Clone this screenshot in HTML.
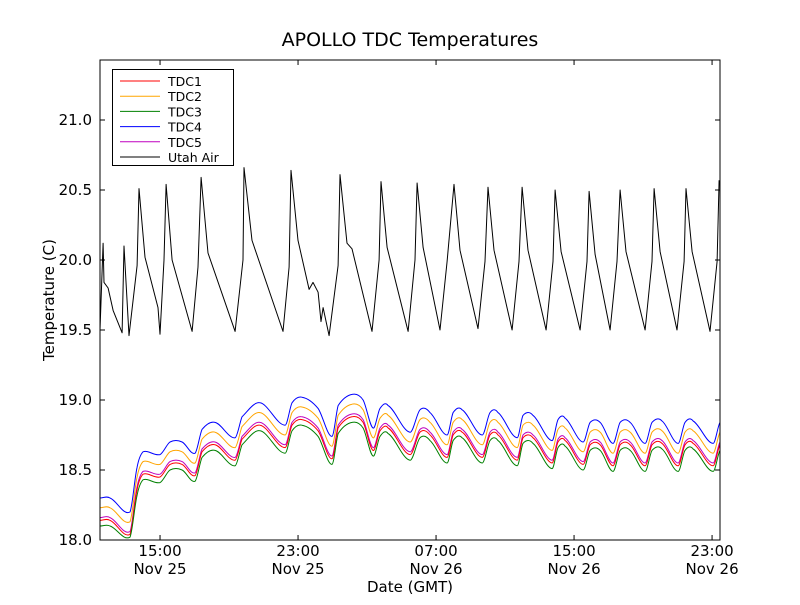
<!DOCTYPE html>
<html><head><meta charset="utf-8"><style>
body{margin:0;background:#fff;}
svg text{font-family:"DejaVu Sans","Liberation Sans",sans-serif;fill:#000;}
</style></head><body>
<svg id="chart" width="800" height="600" viewBox="0 0 800 600" xmlns="http://www.w3.org/2000/svg">
<rect width="800" height="600" fill="#fff"/>
<text x="410" y="46" font-size="19" text-anchor="middle">APOLLO TDC Temperatures</text>
<text x="0" y="0" font-size="15" text-anchor="middle" transform="translate(54,300) rotate(-90)">Temperature (C)</text>
<text x="410" y="592" font-size="15" text-anchor="middle">Date (GMT)</text>
<g id="plot"></g>
<g id="axes"></g>
<g id="legend"></g>
</svg>
<script>
const airTimes=[11.52,11.70,11.75,11.99,12.28,12.80,12.91,13.20,13.67,13.78,14.13,14.88,15.00,15.23,15.35,15.70,16.86,17.20,17.38,17.78,19.35,19.81,19.87,20.33,22.13,22.48,22.59,23.00,23.64,23.87,24.16,24.33,24.45,24.80,25.32,25.43,25.84,26.13,27.29,27.70,27.81,28.16,29.38,29.78,29.90,30.25,31.23,31.64,32.04,32.39,33.43,33.84,34.01,34.36,35.41,35.81,35.99,36.33,37.38,37.78,37.90,38.25,39.35,39.75,39.87,40.22,41.09,41.49,41.67,42.01,43.12,43.52,43.64,43.99,44.97,45.38,45.49,45.84,46.88,47.29,47.41];
const airValues=[19.50,20.12,19.84,19.80,19.64,19.48,20.10,19.46,19.96,20.51,20.02,19.66,19.47,20.00,20.54,20.00,19.49,19.95,20.59,20.05,19.49,20.00,20.66,20.14,19.49,19.95,20.64,20.14,19.79,19.84,19.77,19.56,19.66,19.46,19.96,20.61,20.12,20.08,19.49,20.00,20.56,20.09,19.49,20.00,20.55,20.09,19.50,19.99,20.54,20.07,19.51,19.99,20.52,20.07,19.50,19.99,20.52,20.07,19.50,19.99,20.50,20.06,19.50,19.99,20.49,20.04,19.50,19.99,20.50,20.06,19.50,19.99,20.51,20.06,19.50,19.99,20.51,20.06,19.49,19.99,20.57];
const tdcTimes=[11.52,12.10,13.26,13.67,14.01,15.00,15.58,16.28,17.03,17.43,18.19,19.35,19.75,20.80,22.25,22.65,23.23,24.16,24.97,25.32,26.13,26.77,27.35,27.75,28.22,29.49,30.07,30.65,31.64,31.99,32.51,33.67,34.13,34.59,35.70,36.04,36.62,37.72,38.07,38.48,39.52,39.93,40.51,41.26,41.67,42.25,43.12,43.52,44.10,45.03,45.43,45.90,47.06,47.46];
const tdc4=[18.30,18.30,18.20,18.52,18.63,18.61,18.70,18.70,18.62,18.79,18.84,18.73,18.88,18.98,18.82,18.98,19.02,18.94,18.74,18.96,19.04,19.00,18.80,18.94,18.96,18.77,18.93,18.91,18.75,18.91,18.93,18.75,18.91,18.91,18.73,18.89,18.89,18.71,18.86,18.87,18.70,18.84,18.84,18.69,18.84,18.84,18.69,18.84,18.85,18.69,18.84,18.85,18.69,18.84];
const tdc2=[18.23,18.23,18.13,18.45,18.56,18.54,18.63,18.63,18.55,18.72,18.77,18.66,18.81,18.91,18.75,18.91,18.95,18.87,18.67,18.89,18.97,18.93,18.73,18.87,18.89,18.70,18.86,18.84,18.68,18.84,18.86,18.68,18.84,18.84,18.66,18.82,18.82,18.64,18.79,18.80,18.63,18.77,18.77,18.62,18.77,18.77,18.62,18.77,18.78,18.62,18.77,18.78,18.62,18.77];
const tdc5=[18.16,18.16,18.06,18.38,18.49,18.47,18.56,18.56,18.48,18.65,18.70,18.59,18.74,18.84,18.68,18.84,18.88,18.80,18.60,18.82,18.90,18.86,18.66,18.80,18.82,18.63,18.79,18.77,18.61,18.77,18.79,18.61,18.77,18.77,18.59,18.75,18.75,18.57,18.72,18.73,18.56,18.70,18.70,18.55,18.70,18.70,18.55,18.70,18.71,18.55,18.70,18.71,18.55,18.70];
const tdc1=[18.14,18.14,18.04,18.36,18.47,18.45,18.54,18.54,18.46,18.63,18.68,18.57,18.72,18.82,18.66,18.82,18.86,18.78,18.58,18.80,18.88,18.84,18.64,18.78,18.80,18.61,18.77,18.75,18.59,18.75,18.77,18.59,18.75,18.75,18.57,18.73,18.73,18.55,18.70,18.71,18.54,18.68,18.68,18.53,18.68,18.68,18.53,18.68,18.69,18.53,18.68,18.69,18.53,18.68];
const tdc3=[18.10,18.10,18.02,18.32,18.43,18.41,18.50,18.50,18.42,18.59,18.64,18.53,18.68,18.78,18.62,18.78,18.82,18.74,18.54,18.76,18.84,18.80,18.60,18.74,18.76,18.57,18.73,18.71,18.55,18.71,18.73,18.55,18.71,18.71,18.53,18.69,18.69,18.51,18.66,18.67,18.50,18.64,18.64,18.49,18.64,18.64,18.49,18.64,18.65,18.49,18.64,18.65,18.49,18.64];
const yTicks=[18.0,18.5,19.0,19.5,20.0,20.5,21.0];
const yTickLabels=["18.0","18.5","19.0","19.5","20.0","20.5","21.0"];
const xTicks=[15,23,31,39,47];
const xTickTimes=["15:00","23:00","07:00","15:00","23:00"];
const xTickDates=["Nov 25","Nov 25","Nov 26","Nov 26","Nov 26"];
const legendLabels=["TDC1","TDC2","TDC3","TDC4","TDC5","Utah Air"];

const L=100,R=720,T=60,B=540,X0=11.52,X1=47.46,Y0=18.0,Y1=21.4286;
const xs=h=>L+(h-X0)/(X1-X0)*(R-L);
const ys=v=>B-(v-Y0)/(Y1-Y0)*(B-T);
const NS="http://www.w3.org/2000/svg";
function mk(tag,attrs,parent){const e=document.createElementNS(NS,tag);for(const k in attrs)e.setAttribute(k,attrs[k]);parent.appendChild(e);return e;}
function smoothPath(pts){
  let d='M'+pts[0][0].toFixed(1)+','+pts[0][1].toFixed(1);
  for(let i=0;i<pts.length-1;i++){
    const p0=pts[Math.max(0,i-1)],p1=pts[i],p2=pts[i+1],p3=pts[Math.min(pts.length-1,i+2)];
    const k=0.5/3;
    let c1y=p1[1]+(p2[1]-p0[1])*k,c2y=p2[1]-(p3[1]-p1[1])*k;
    const lo=Math.min(p1[1],p2[1]),hi=Math.max(p1[1],p2[1]);
    c1y=Math.min(Math.max(c1y,lo-4),hi+4);c2y=Math.min(Math.max(c2y,lo-4),hi+4);
    const c1x=p1[0]+(p2[0]-p1[0])/3,c2x=p2[0]-(p2[0]-p1[0])/3;
    d+=' C'+c1x.toFixed(1)+','+c1y.toFixed(1)+' '+c2x.toFixed(1)+','+c2y.toFixed(1)+' '+p2[0].toFixed(1)+','+p2[1].toFixed(1);
  }
  return d;
}
const plot=document.getElementById('plot'),axes=document.getElementById('axes'),leg=document.getElementById('legend');
const series=[[tdc4,'#0000ff','tdc4-line'],[tdc2,'#ffa500','tdc2-line'],[tdc5,'#bf00bf','tdc5-line'],[tdc1,'#ff0000','tdc1-line'],[tdc3,'#008000','tdc3-line']];
series.forEach(s=>{
  const pts=tdcTimes.map((t,i)=>[xs(t),ys(s[0][i])]);
  const p=mk('path',{d:smoothPath(pts),fill:'none',stroke:s[1],'stroke-width':1,'stroke-linejoin':'round'},plot);
  
  
});
const air=mk('polyline',{points:airTimes.map((t,i)=>xs(t).toFixed(1)+','+ys(airValues[i]).toFixed(1)).join(' '),fill:'none',stroke:'#000','stroke-width':1,'stroke-linejoin':'round'},plot);


const frame=mk('rect',{x:L,y:T,width:R-L,height:B-T,fill:'none',stroke:'#000','stroke-width':1},axes);


yTicks.forEach((v,i)=>{
  const y=ys(v);
  mk('line',{x1:L,x2:L+5,y1:y,y2:y,stroke:'#000'},axes);
  mk('line',{x1:R,x2:R-5,y1:y,y2:y,stroke:'#000'},axes);
  const t=mk('text',{x:L-8,y:y+5,'font-size':15,'text-anchor':'end'},axes);
  t.textContent=yTickLabels[i];
  
  
});
xTicks.forEach((h,i)=>{
  const x=xs(h);
  mk('line',{x1:x,x2:x,y1:B,y2:B-5,stroke:'#000'},axes);
  mk('line',{x1:x,x2:x,y1:T,y2:T+5,stroke:'#000'},axes);
  const t=mk('text',{x:x,y:556,'font-size':15,'text-anchor':'middle'},axes);
  t.textContent=xTickTimes[i];
  
  
  const d=mk('text',{x:x,y:574,'font-size':15,'text-anchor':'middle'},axes);
  d.textContent=xTickDates[i];
  
  
});
mk('rect',{x:112.5,y:69.5,width:121,height:96,fill:'#fff',stroke:'#000'},leg);
const legColors=['#ff0000','#ffa500','#008000','#0000ff','#bf00bf','#000'];
legendLabels.forEach((lab,i)=>{
  const y=81+i*15.2;
  const ln=mk('line',{x1:120,x2:160,y1:y,y2:y,stroke:legColors[i]},leg);
  
  
  const t=mk('text',{x:168,y:y+5,'font-size':12.5},leg);
  t.textContent=lab;
  
  
});
</script>
</body></html>
